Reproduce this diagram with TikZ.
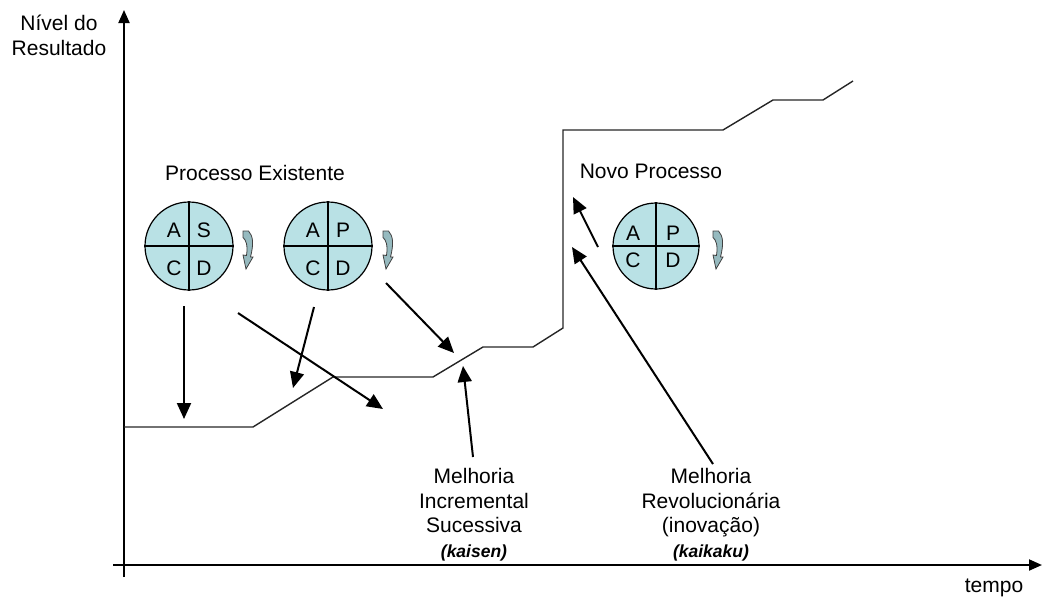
\documentclass[tikz,border=0pt]{standalone}
\usepackage{fontspec}
\setmainfont{Liberation Sans}
\usetikzlibrary{arrows.meta}
\definecolor{pdcafill}{RGB}{185,225,229}
\definecolor{curlfill}{RGB}{150,186,191}
\begin{document}
\begin{tikzpicture}[x=1pt,y=-1pt,
  txt/.style={inner sep=0pt,anchor=base,font=\fontsize{21}{24}\selectfont},
  kai/.style={inner sep=0pt,anchor=base,font=\fontsize{17.5}{20}\selectfont\bfseries\itshape},
  letter/.style={inner sep=0pt,font=\fontsize{21}{24}\selectfont},
  axis/.style={line width=2pt,-{Triangle[length=13pt,width=11pt]}},
  pointer/.style={line width=2pt,-{Triangle[length=16pt,width=14pt]}},
  stepline/.style={line width=1.4pt,black!85},
  pdca/.style={circle,draw,line width=1.2pt,fill=pdcafill,minimum size=88pt,inner sep=0pt},
  curl/.pic={\filldraw[fill=curlfill,draw=black!75,line width=0.8pt]
    (0,0) -- (5.5,0) .. controls (10,5) and (11,12) .. (7.5,26) -- (10,26) -- (3,38)
    -- (0,24) -- (3.5,24.5) .. controls (5,14) and (3,9) .. (0,6.5) -- cycle;}]
\useasboundingbox (0,0) rectangle (1042,598);

% axes
\coordinate (ybot) at (124,577);
\coordinate (ytop) at (124,10);
\coordinate (xleft) at (113,565);
\coordinate (xright) at (1042,565);
\draw[axis] (ybot) -- (ytop);
\draw[axis] (xleft) -- (xright);
\node[txt] (ylab1) at (59,30) {Nível do};
\node[txt] (ylab2) at (59,55) {Resultado};
\node[txt] (xlab) at (994,592) {tempo};

% result level over time
\draw[stepline] (124,427) -- (253,427) -- (333,377) -- (433,377) -- (483,347)
  -- (533,347) -- (563,328) -- (563,130) -- (723,130) -- (773,100) -- (823,100) -- (853,81);

% existing process cycles
\node[txt] (exist) at (255,180) {Processo Existente};
\node[pdca] (c1) at (189,246) {};
\draw[line width=1.2pt] (c1.north) -- (c1.south) (c1.west) -- (c1.east);
\node[letter] (c1a) at (174,230) {A};
\node[letter] (c1s) at (204,230) {S};
\node[letter] (c1c) at (174,268) {C};
\node[letter] (c1d) at (204,268) {D};
\pic at (243,231) {curl};

\node[pdca] (c2) at (328,246) {};
\draw[line width=1.2pt] (c2.north) -- (c2.south) (c2.west) -- (c2.east);
\node[letter] (c2a) at (313,230) {A};
\node[letter] (c2p) at (343,230) {P};
\node[letter] (c2c) at (313,268) {C};
\node[letter] (c2d) at (343,268) {D};
\pic at (383,231) {curl};

% new process cycle
\node[txt] (novo) at (651,178) {Novo Processo};
\node[pdca,minimum size=86pt] (c3) at (656,246) {};
\draw[line width=1.2pt] (c3.north) -- (c3.south) (c3.west) -- (c3.east);
\node[letter] (c3a) at (633,233) {A};
\node[letter] (c3p) at (673,233) {P};
\node[letter] (c3c) at (633,260) {C};
\node[letter] (c3d) at (673,260) {D};
\pic at (713,231) {curl};

% labels
\node[txt] (inc1) at (474,483) {Melhoria};
\node[txt] (inc2) at (474,508) {Incremental};
\node[txt] (inc3) at (474,532) {Sucessiva};
\node[kai] (inc4) at (474,557) {(kaisen)};
\node[txt] (rev1) at (711,483) {Melhoria};
\node[txt] (rev2) at (711,508) {Revolucionária};
\node[txt] (rev3) at (711,532) {(inovação)};
\node[kai] (rev4) at (711,557) {(kaikaku)};

% pointers
\coordinate (p1s) at (184,306); \coordinate (p1e) at (184,419);
\coordinate (p2s) at (238,313); \coordinate (p2e) at (383,409);
\coordinate (p3s) at (314,307); \coordinate (p3e) at (293,388);
\coordinate (p4s) at (386,283); \coordinate (p4e) at (454,353);
\coordinate (p5s) at (473,457); \coordinate (p5e) at (463,366);
\coordinate (p6s) at (598,247); \coordinate (p6e) at (573,197);
\coordinate (p7s) at (713,464); \coordinate (p7e) at (572,247);
\draw[pointer] (p1s) -- (p1e);
\draw[pointer] (p2s) -- (p2e);
\draw[pointer] (p3s) -- (p3e);
\draw[pointer] (p4s) -- (p4e);
\draw[pointer] (p5s) -- (p5e);
\draw[pointer] (p6s) -- (p6e);
\draw[pointer] (p7s) -- (p7e);
\end{tikzpicture}
\end{document}
